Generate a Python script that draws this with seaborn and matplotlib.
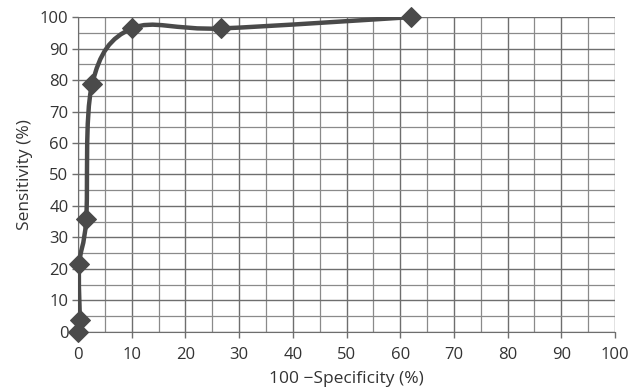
import numpy as np
import pandas as pd
import seaborn as sns
import matplotlib
matplotlib.use("Agg")
import matplotlib.pyplot as plt
from matplotlib.path import Path
from matplotlib.patches import PathPatch

# ROC points
fpr = [0, 0.3, 0.2, 1.5, 2.6, 10.0, 26.6, 62.0]
sens = [0, 3.6, 21.4, 35.7, 78.6, 96.4, 96.4, 100]

df = pd.DataFrame({"fpr": fpr, "sens": sens})

sns.set_style("white")
plt.rcParams["font.family"] = ["Open Sans", "DejaVu Sans"]

fig = plt.figure(figsize=(6.3, 3.89), dpi=100)
ax = fig.add_axes([0.124, 0.147, 0.852, 0.809])

col = "#4a4a4a"

# smoothed line like the spreadsheet's "smoothed line" option (Bezier through the points)
pts = df[["fpr", "sens"]].to_numpy(dtype=float)
verts = [pts[0]]
codes = [Path.MOVETO]
n = len(pts)
for i in range(n - 1):
    p0 = pts[i - 1] if i > 0 else pts[i]
    p1 = pts[i]
    p2 = pts[i + 1]
    p3 = pts[i + 2] if i + 2 < n else pts[i + 1]
    c1 = p1 + (p2 - p0) / 6.0
    c2 = p2 - (p3 - p1) / 6.0
    verts += [c1, c2, p2]
    codes += [Path.CURVE4] * 3
ax.add_patch(PathPatch(Path(verts, codes), facecolor="none", edgecolor=col,
                       lw=3.2, zorder=3, capstyle="round", joinstyle="round"))

sns.lineplot(data=df, x="fpr", y="sens", ax=ax, linestyle="none", marker="D",
             markersize=10, color=col, markeredgecolor=col, zorder=4,
             clip_on=False, sort=False, estimator=None)

ax.set_xlim(0, 100)
ax.set_ylim(0, 100)
ax.set_xticks(np.arange(0, 101, 10))
ax.set_yticks(np.arange(0, 101, 10))
ax.set_xticks(np.arange(0, 101, 5), minor=True)
ax.set_yticks(np.arange(0, 101, 5), minor=True)
ax.grid(which="major", color="#6e6e6e", lw=1.0)
ax.grid(which="minor", color="#8a8a8a", lw=0.9)
ax.set_axisbelow(True)
for s in ax.spines.values():
    s.set_visible(False)
ax.spines["bottom"].set_visible(True)
ax.spines["bottom"].set_color("#6e6e6e")
ax.spines["left"].set_visible(True)
ax.spines["left"].set_color("#6e6e6e")

ax.tick_params(axis="x", which="major", direction="out", length=4, width=1,
               color="#6e6e6e", labelsize=12, labelcolor="#333333", pad=7, bottom=True)
ax.tick_params(axis="y", which="major", direction="out", length=4, width=1,
               color="#6e6e6e", labelsize=12, labelcolor="#333333", pad=3, left=True)
ax.tick_params(which="minor", length=0)

ax.set_xlabel("100 \u2212Specificity (%)", fontsize=12.5, color="#333333", labelpad=6)
ax.set_ylabel("Sensitivity (%)", fontsize=12.5, color="#333333", labelpad=5)

fig.savefig("out.png", dpi=100, facecolor="white")
